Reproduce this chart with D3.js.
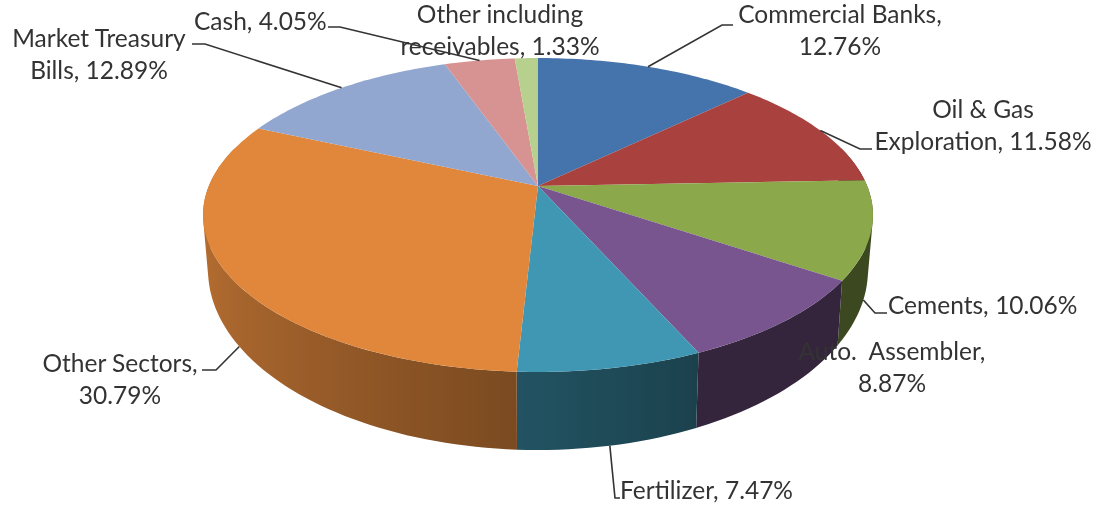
<!DOCTYPE html>
<html lang="en">
<head>
<meta charset="utf-8">
<title>Sector allocation</title>
<style>
    html, body { margin : 0; padding : 0; background : #fff; }
    svg { display : block; filter : blur( 0.45px ); }
    .label { font-family : Lato, "Open Sans", sans-serif; font-size : 24.5px; fill : #333; }
    .leader { fill : none; stroke : #333; stroke-width : 1.6; }
</style>
</head>
<body>
<div id="chart"></div>
<script src="https://cdn.jsdelivr.net/npm/d3@7"></script>
<script>

var categories = [ "Commercial Banks" , "Oil & Gas Exploration" , "Cements" , "Auto. Assembler" , "Fertilizer" ,
                   "Other Sectors" , "Market Treasury Bills" , "Cash" , "Other including receivables" ];
var values = [ 12.76 , 11.58 , 10.06 , 8.87 , 7.47 , 30.79 , 12.89 , 4.05 , 1.33 ];
var colors = [ "#4573ab" , "#a9413f" , "#8ba84b" , "#78558f" , "#3f97b3" , "#e0873c" , "#91a7d0" , "#d79391" , "#b8d08e" ];

// text lines of each label, same order as categories
var labelLines = [
    [ "Commercial Banks," , "12.76%" ],
    [ "Oil & Gas" , "Exploration, 11.58%" ],
    [ "Cements,  10.06%" ],
    [ "Auto.  Assembler," , "8.87%" ],
    [ "Fertilizer, 7.47%" ],
    [ "Other Sectors," , "30.79%" ],
    [ "Market Treasury" , "Bills, 12.89%" ],
    [ "Cash, 4.05%" ],
    [ "Other including" , "receivables, 1.33%" ]
];

// where each label sits, and the elbow of its leader (null : no leader)
var labelLayout = [
    { x : 840 ,  y : 23 ,  anchor : "middle" , elbow : [ [ 722 , 25 ] , [ 733 , 25 ] ] },
    { x : 983 ,  y : 118 , anchor : "middle" , elbow : [ [ 860 , 149 ] , [ 872 , 149 ] ] },
    { x : 888 ,  y : 314 , anchor : "start" ,  elbow : [ [ 875 , 313 ] , [ 887 , 313 ] ] , wall : true , nudge : 4 , spacing : -3 },
    { x : 892 ,  y : 360 , anchor : "middle" , elbow : null },
    { x : 620 ,  y : 499 , anchor : "start" ,  elbow : [ [ 615 , 498 ] , [ 620 , 498 ] ] , wall : true },
    { x : 120 ,  y : 372 , anchor : "middle" , elbow : [ [ 216 , 370 ] , [ 202 , 370 ] ] , wall : true , nudge : -3 },
    { x : 99 ,   y : 47 ,  anchor : "middle" , elbow : [ [ 205 , 44 ] , [ 192 , 44 ] ] },
    { x : 194 ,  y : 30 ,  anchor : "start" ,  elbow : [ [ 340 , 27 ] , [ 328 , 27 ] ] },
    { x : 500 ,  y : 23 ,  anchor : "middle" , elbow : null }
];

var width = 1099, height = 512;
var line_height = 32;

// perspective of the disc, camera sits in front of and above the pie
var persp = 0.1847;
var top_disc = { cx : 538 , cy : 186 , a : 329.2 , b : 151.6 };
var bottom_disc = { cx : 538 , cy : 236.7 , a : 324.3 , b : 173.9 };

// angle 0 is the back of the pie, clockwise seen from above
function project( disc , angle )
{
    var u = Math.sin( angle ), v = - Math.cos( angle );
    var w = 1 - persp * v;
    return [ disc.cx + disc.a * u / w , disc.cy + disc.b * v / w ];
}

var deg = Math.PI / 180;
var shade = d3.scaleLinear()
    .domain( [ 90 , 156 , 183 , 225 , 275 ] )
    .range( [ 0.57 , 0.57 , 0.45 , 0.28 , 0.13 ] )
    .clamp( true );

var slices = d3.pie().sort( null )( values );
var path = d3.line();

var svg = d3.select( "#chart" ).append( "svg" )
    .attr( "width" , width )
    .attr( "height" , height );
var defs = svg.append( "defs" );

// side wall, front half only, the top disc hides everything else
var wall = svg.append( "g" );
slices.forEach( function( s , i )
{
    var a0 = Math.max( s.startAngle , 75 * deg );
    var a1 = Math.min( s.endAngle , 285 * deg );
    if( a1 <= a0 ) return;
    var steps = d3.range( a0 , a1 , 1.5 * deg ).concat( [ a1 ] );
    var top_pts = steps.map( function( t ) { return project( top_disc , t ); } );
    var bottom_pts = steps.map( function( t ) { return project( bottom_disc , t ); } );

    // shading runs along the x axis of the picture
    var x_ext = d3.extent( top_pts.concat( bottom_pts ) , function( p ) { return p[0]; } );
    var offset = d3.scaleLinear().domain( x_ext ).range( [ 0 , 1 ] );
    var stops = steps.map( function( t , k ) {
        return { angle : t / deg , pos : offset( top_pts[k][0] ) ,
                 color : d3.interpolateRgb( colors[i] , "#000" )( shade( t / deg ) ) };
    } );
    // x turns back past the tangents of the disc, stops from there would zigzag
    var monotonic = stops.filter( function( p ) { return p.angle > 101 && p.angle < 259; } );
    if( monotonic.length > 0 ) stops = monotonic;
    stops.sort( function( p , q ) { return p.pos - q.pos; } );

    var grad = defs.append( "linearGradient" )
        .attr( "id" , "wall" + i )
        .attr( "gradientUnits" , "userSpaceOnUse" )
        .attr( "x1" , x_ext[0] ).attr( "x2" , x_ext[1] )
        .attr( "y1" , 0 ).attr( "y2" , 0 );
    grad.selectAll( "stop" )
        .data( stops )
        .enter().append( "stop" )
            .attr( "offset" , function( d ) { return d.pos; } )
            .attr( "stop-color" , function( d ) { return d.color; } );

    // all quads in one path, same winding, so no seams and no holes at the tangents
    var d = "";
    for( var k=0 ; k<steps.length-1 ; k++ )
    {
        var quad = [ top_pts[k] , top_pts[k+1] , bottom_pts[k+1] , bottom_pts[k] ];
        if( d3.polygonArea( quad ) < 0 ) quad.reverse();
        d += path( quad ) + "Z";
    }
    wall.append( "path" )
        .attr( "d" , d )
        .style( "fill" , "url(#wall" + i + ")" );
} );

// top disc
svg.append( "g" ).selectAll( "path" )
    .data( slices )
    .enter().append( "path" )
        .attr( "d" , function( s )
        {
            var steps = d3.range( s.startAngle , s.endAngle , 1 * deg ).concat( [ s.endAngle ] );
            var pts = steps.map( function( t ) { return project( top_disc , t ); } );
            return path( [ [ top_disc.cx , top_disc.cy ] ].concat( pts ) ) + "Z";
        } )
        .style( "fill" , function( s , i ) { return colors[i]; } );

// leaders start at the middle of their slice
svg.append( "g" ).selectAll( "path" )
    .data( slices.filter( function( s ) { return labelLayout[ s.index ].elbow; } ) )
    .enter().append( "path" )
        .attr( "class" , "leader" )
        .attr( "d" , function( s )
        {
            var lay = labelLayout[ s.index ];
            var mid = ( s.startAngle + s.endAngle ) / 2 + ( lay.nudge || 0 ) * deg;
            var start = project( lay.wall ? bottom_disc : top_disc , mid );
            return path( [ start ].concat( lay.elbow ) );
        } );

// labels
var label = svg.append( "g" ).selectAll( "text" )
    .data( labelLines )
    .enter().append( "text" )
        .attr( "class" , "label" )
        .attr( "xml:space" , "preserve" )
        .style( "white-space" , "pre" )
        .style( "word-spacing" , function( d , i ) { return ( labelLayout[i].spacing || 0 ) + "px"; } )
        .attr( "text-anchor" , function( d , i ) { return labelLayout[i].anchor; } );

label.selectAll( "tspan" )
    .data( function( d , i ) { return d.map( function( t ) { return { text : t , lay : labelLayout[i] }; } ); } )
    .enter().append( "tspan" )
        .attr( "x" , function( d ) { return d.lay.x; } )
        .attr( "y" , function( d , j ) { return d.lay.y + j * line_height; } )
        .text( function( d ) { return d.text; } );

</script>
</body>
</html>
